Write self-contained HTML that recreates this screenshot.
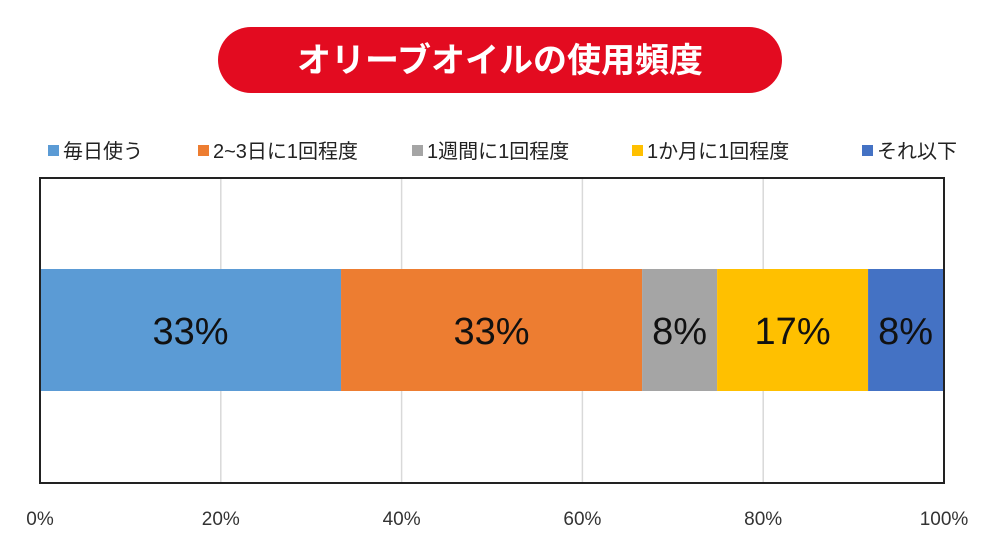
<!DOCTYPE html>
<html><head><meta charset="utf-8"><style>
body{margin:0;background:#fff;}
svg text{font-family:"Liberation Sans","Noto Sans CJK JP",sans-serif;}
</style></head><body>
<svg id="chart" width="1000" height="544" viewBox="0 0 1000 544" xmlns="http://www.w3.org/2000/svg">
<rect x="218" y="27" width="564" height="66" rx="33" fill="#e30b20"/>
<text x="500" y="72" text-anchor="middle" font-size="34" font-weight="bold" fill="#fff">オリーブオイルの使用頻度</text>
<g id="legend"></g>
<g id="grid"></g>
<g id="bars"></g>
<rect x="40" y="178" width="904" height="305" fill="none" stroke="#222" stroke-width="2"/>
<g id="ticks"></g>
</svg>
<script>
const categories = ["毎日使う","2~3日に1回程度","1週間に1回程度","1か月に1回程度","それ以下"];
const values = [33.3,33.3,8.3,16.7,8.3];
const valueLabels = ["33%","33%","8%","17%","8%"];
const tickValues = [0,20,40,60,80,100];
const tickLabels = ["0%","20%","40%","60%","80%","100%"];
const colors = ["#5b9bd5","#ed7d31","#a5a5a5","#ffc000","#4472c4"];
const legendX = [48,198,412,632,862];
const NS="http://www.w3.org/2000/svg";
const x0=40,x1=944,by=269,bh=122;
const sx=v=>x0+(v/100)*(x1-x0);
function mk(t,a,p){const e=document.createElementNS(NS,t);for(const k in a)e.setAttribute(k,a[k]);p.appendChild(e);return e;}
const grid=document.getElementById('grid'),bars=document.getElementById('bars'),ticks=document.getElementById('ticks'),legend=document.getElementById('legend');
tickValues.forEach((v,i)=>{
  if(v>0&&v<100){const l=mk('line',{x1:sx(v),x2:sx(v),y1:178,y2:483,stroke:'#d9d9d9','stroke-width':1.5},grid);
  
  }
  const t=mk('text',{x:sx(v),y:525,'text-anchor':'middle','font-size':19,fill:'#333'},ticks);
  t.textContent=tickLabels[i];
  
  
});
let cum=0;
values.forEach((v,i)=>{
  const r=mk('rect',{x:sx(cum),y:by,width:sx(cum+v)-sx(cum),height:bh,fill:colors[i]},bars);
  
  
  const t=mk('text',{x:(sx(cum)+sx(cum+v))/2,y:by+bh/2+14,'text-anchor':'middle','font-size':38,fill:'#111'},bars);
  t.textContent=valueLabels[i];
  
  
  cum+=v;
});
categories.forEach((c,i)=>{
  const s=mk('rect',{x:legendX[i],y:145,width:11,height:11,fill:colors[i]},legend);
  
  
  const t=mk('text',{x:legendX[i]+15,y:158,'font-size':20,fill:'#222'},legend);
  t.textContent=c;
  
  
});
</script>
</body></html>
